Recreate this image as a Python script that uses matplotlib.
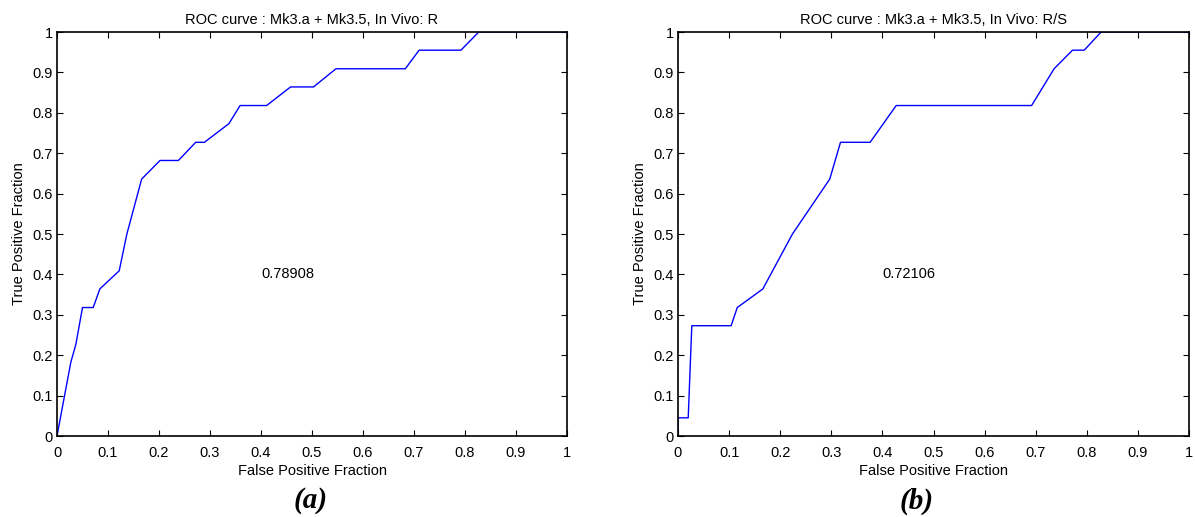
import matplotlib
matplotlib.use("Agg")
import matplotlib.pyplot as plt
import numpy as np

fpr_a = [0.0, 0.027, 0.037, 0.050, 0.071, 0.084, 0.122, 0.137, 0.166, 0.202, 0.238,
         0.272, 0.289, 0.337, 0.359, 0.411, 0.458, 0.503, 0.547, 0.683, 0.710, 0.792,
         0.827, 1.0]
tpr_a = [0.0, 0.182, 0.227, 0.318, 0.318, 0.364, 0.409, 0.500, 0.636, 0.682, 0.682,
         0.727, 0.727, 0.773, 0.818, 0.818, 0.864, 0.864, 0.909, 0.909, 0.955, 0.955,
         1.0, 1.0]

fpr_b = [0.0, 0.0, 0.020, 0.027, 0.104, 0.116, 0.166, 0.224, 0.297, 0.318, 0.376,
         0.427, 0.692, 0.736, 0.772, 0.795, 0.828, 1.0]
tpr_b = [0.0, 0.045, 0.045, 0.273, 0.273, 0.318, 0.364, 0.500, 0.636, 0.727, 0.727,
         0.818, 0.818, 0.909, 0.955, 0.955, 1.0, 1.0]

titles = ["ROC curve : Mk3.a + Mk3.5, In Vivo: R", "ROC curve : Mk3.a + Mk3.5, In Vivo: R/S"]
auc_labels = ["0.78908", "0.72106"]
panel_labels = ["(a)", "(b)"]
ticks = [0, 0.1, 0.2, 0.3, 0.4, 0.5, 0.6, 0.7, 0.8, 0.9, 1]
tick_labels = ["0", "0.1", "0.2", "0.3", "0.4", "0.5", "0.6", "0.7", "0.8", "0.9", "1"]

plt.rcParams['font.family'] = ['Liberation Sans', 'DejaVu Sans']

W, H = 1195, 517
fig = plt.figure(figsize=(W / 100, H / 100), dpi=100)

axes_px = [(57, 567), (678, 1189)]
y_top, y_bot = 32, 436
label_x = [311, 917]

FS = 10.5
data = [(fpr_a, tpr_a), (fpr_b, tpr_b)]
for i in range(2):
    x0, x1 = axes_px[i]
    ax = fig.add_axes([x0 / W, 1 - y_bot / H, (x1 - x0) / W, (y_bot - y_top) / H])
    fx, ty = data[i]
    ax.plot(fx, ty, color=(0, 0, 1), lw=1.0)
    ax.set_xlim(0, 1)
    ax.set_ylim(0, 1)
    ax.set_xticks(ticks)
    ax.set_xticklabels(tick_labels)
    ax.set_yticks(ticks)
    ax.set_yticklabels(tick_labels)
    ax.tick_params(direction='in', top=True, right=True, labelsize=FS, length=4, width=0.8)
    ax.tick_params(axis='x', pad=7.5)
    ax.tick_params(axis='y', pad=3)
    for s in ax.spines.values():
        s.set_linewidth(1.2)
    ax.set_title(titles[i], fontsize=FS, pad=5.5)
    ax.set_xlabel("False Positive Fraction", fontsize=FS, labelpad=2.5)
    ax.set_ylabel("True Positive Fraction", fontsize=FS, labelpad=4.5)
    ax.text(0.4, 0.4, auc_labels[i], fontsize=FS, ha='left', va='center')
    fig.text(label_x[i] / W, 1 - 501 / H, panel_labels[i], fontsize=21, fontweight='bold',
             fontstyle='italic', family=['Liberation Serif', 'DejaVu Serif'], ha='center', va='center')

fig.savefig("out.png", dpi=100)
